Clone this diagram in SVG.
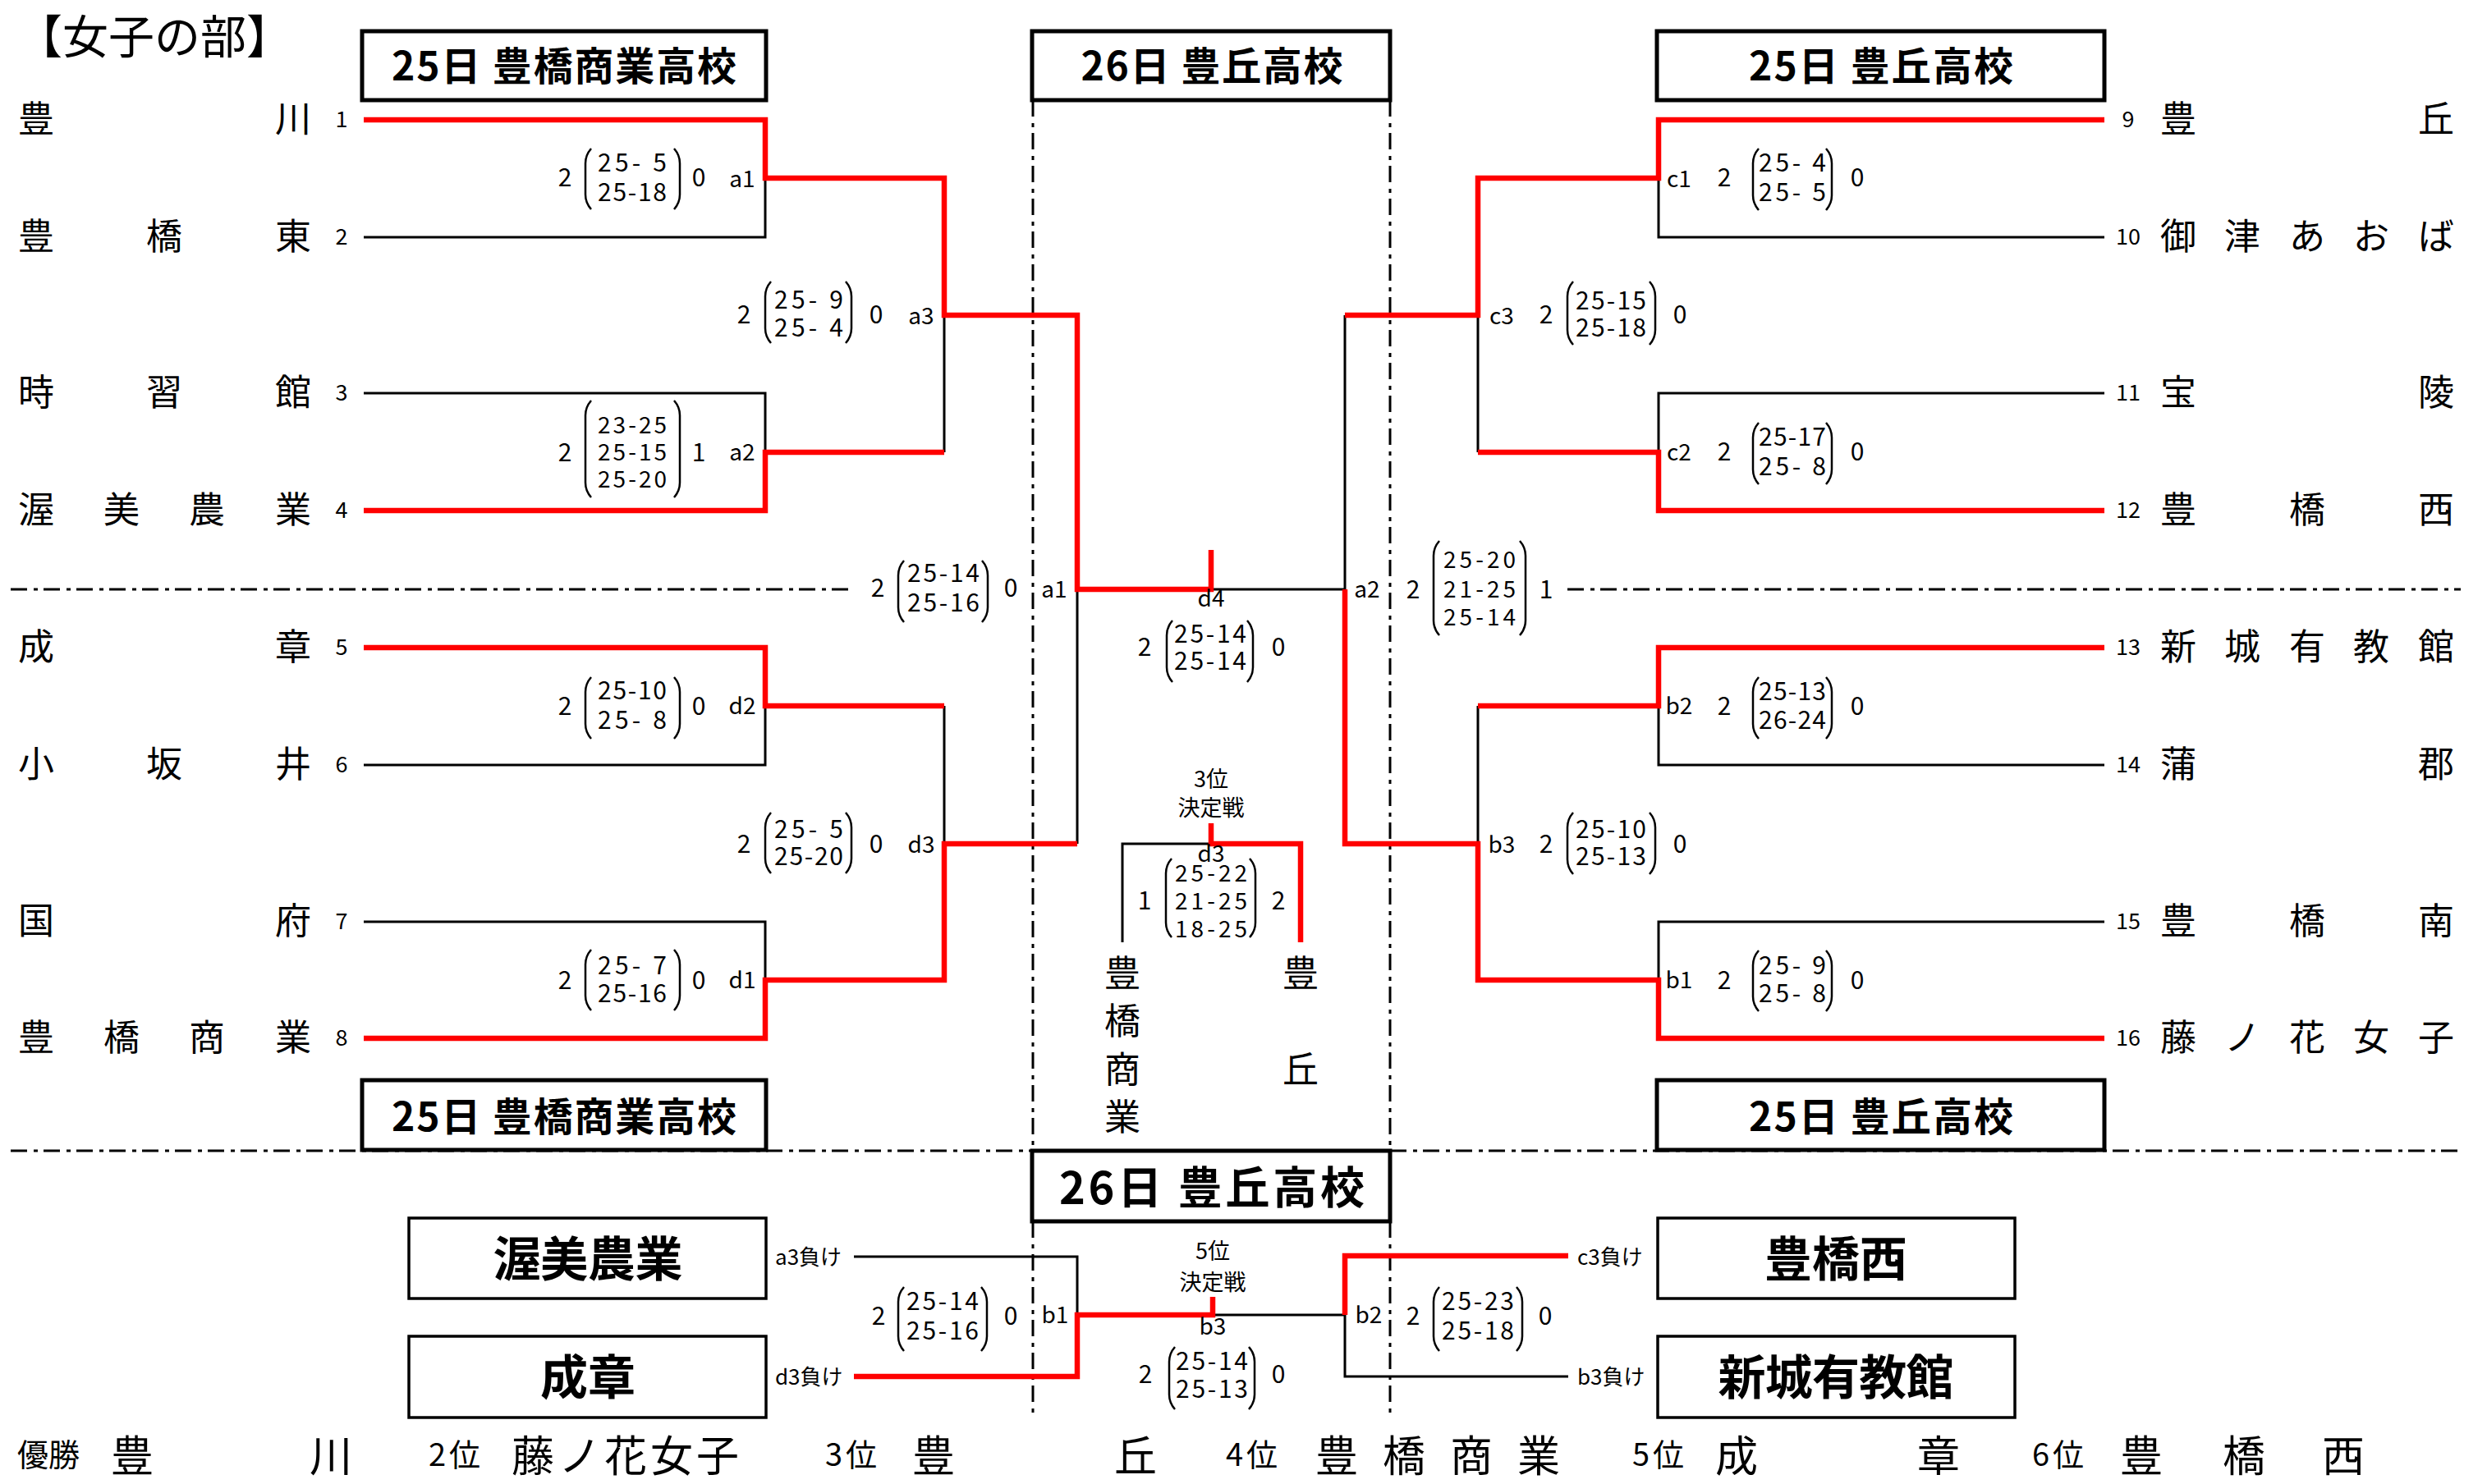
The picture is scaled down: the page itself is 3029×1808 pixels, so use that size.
<svg xmlns="http://www.w3.org/2000/svg" width="3029" height="1808" viewBox="0 0 3029 1808">
<style>
text{font-family:"Noto Sans CJK JP","Noto Sans",sans-serif;dominant-baseline:central;fill:#000}
.nm{font-size:44px}
.num{font-size:27px;text-anchor:middle}
.sc{font-size:30px;text-anchor:middle}
.sc3{font-size:28px;text-anchor:middle}
.lb{font-size:28px;text-anchor:middle}
.sm{font-size:27px;text-anchor:middle}
.lose{font-size:26px}
.ttl{font-size:48px;font-weight:bold;text-anchor:middle}
.big{font-size:58px;font-weight:bold;text-anchor:middle}
.res{font-size:52px}
.rl{font-size:38px}
.box{fill:#fff;stroke:#000;stroke-width:5}
.sbox{fill:#fff;stroke:#000;stroke-width:3.5}
.ln{fill:none;stroke:#000;stroke-width:3}
.win{fill:none;stroke:#ff0000;stroke-width:6.5}
.dash{fill:none;stroke:#000;stroke-width:3;stroke-dasharray:20 8 5 7}
.par{fill:none;stroke:#000;stroke-width:2.5}
</style>
<rect width="3029" height="1808" fill="#fff"/>
<g id="guides">
<path class="dash" d="M13,718 H1040 M1909,718 H2997 M13,1402 H2997 M1258,122 V1402 M1693,122 V1402 M1258,1488 V1728 M1693,1488 V1728"/>
</g>
<text id="heading" x="20" y="40" style="font-size:56px">【女子の部】</text>
<g id="venue-top-left"><rect class="box" x="441" y="38" width="492" height="84"/><text class="ttl" x="687" y="77" textLength="420">25日 豊橋商業高校</text></g>
<g id="venue-top-center"><rect class="box" x="1257" y="38" width="436" height="84"/><text class="ttl" x="1476" y="77" textLength="319">26日 豊丘高校</text></g>
<g id="venue-top-right"><rect class="box" x="2018" y="38" width="545" height="84"/><text class="ttl" x="2291" y="77" textLength="322">25日 豊丘高校</text></g>
<g id="connectors">
<path class="ln" d="M443,289 H932 V217 M443,479 H932 V551 M443,932 H932 V860 M443,1123 H932 V1194 M1150,384 V551 M1150,860 V1028 M1312,718 V1028 M1475,718 H1638 M1638,384 V718"/>
<path class="ln" d="M2563,289 H2020 V217 M2563,479 H2020 V551 M2563,932 H2020 V860 M2563,1123 H2020 V1194 M1800,384 V551 M1800,860 V1028"/>
<path class="ln" d="M1367,1148 V1028 H1475 M1040,1531 H1312 V1602 M1477,1602 H1638 V1677 H1910"/>
<path class="win" d="M443,146 H932 V217 H1150 V384 H1312 V718 H1475 V670"/>
<path class="win" d="M443,622 H932 V551 H1150"/>
<path class="win" d="M443,789 H932 V860 H1150"/>
<path class="win" d="M443,1265 H932 V1194 H1150 V1028 H1312"/>
<path class="win" d="M2563,146 H2020 V217 H1800 V384 H1638"/>
<path class="win" d="M2563,622 H2020 V551 H1800"/>
<path class="win" d="M2563,789 H2020 V860 H1800"/>
<path class="win" d="M2563,1265 H2020 V1194 H1800 V1028 H1638 V718"/>
<path class="win" d="M1475,1003 V1028 H1584 V1148"/>
<path class="win" d="M1040,1677 H1312 V1602 H1477 V1580"/>
<path class="win" d="M1910,1530 H1638 V1602"/>
</g>
<g id="team-1"><text class="num" x="416" y="143">1</text><text class="nm" x="22 335" y="142">豊川</text></g>
<g id="team-2"><text class="num" x="416" y="286">2</text><text class="nm" x="22 178 335" y="285">豊橋東</text></g>
<g id="team-3"><text class="num" x="416" y="476">3</text><text class="nm" x="22 178 335" y="475">時習館</text></g>
<g id="team-4"><text class="num" x="416" y="619">4</text><text class="nm" x="22 126 230 335" y="618">渥美農業</text></g>
<g id="team-5"><text class="num" x="416" y="786">5</text><text class="nm" x="22 335" y="785">成章</text></g>
<g id="team-6"><text class="num" x="416" y="929">6</text><text class="nm" x="22 178 335" y="928">小坂井</text></g>
<g id="team-7"><text class="num" x="416" y="1120">7</text><text class="nm" x="22 335" y="1119">国府</text></g>
<g id="team-8"><text class="num" x="416" y="1262">8</text><text class="nm" x="22 126 230 335" y="1261">豊橋商業</text></g>
<g id="team-9"><text class="num" x="2592" y="143">9</text><text class="nm" x="2631 2945" y="142">豊丘</text></g>
<g id="team-10"><text class="num" x="2592" y="286">10</text><text class="nm" x="2631 2709 2788 2866 2945" y="285">御津あおば</text></g>
<g id="team-11"><text class="num" x="2592" y="476">11</text><text class="nm" x="2631 2945" y="475">宝陵</text></g>
<g id="team-12"><text class="num" x="2592" y="619">12</text><text class="nm" x="2631 2788 2945" y="618">豊橋西</text></g>
<g id="team-13"><text class="num" x="2592" y="786">13</text><text class="nm" x="2631 2709 2788 2866 2945" y="785">新城有教館</text></g>
<g id="team-14"><text class="num" x="2592" y="929">14</text><text class="nm" x="2631 2945" y="928">蒲郡</text></g>
<g id="team-15"><text class="num" x="2592" y="1120">15</text><text class="nm" x="2631 2788 2945" y="1119">豊橋南</text></g>
<g id="team-16"><text class="num" x="2592" y="1262">16</text><text class="nm" x="2631 2709 2788 2866 2945" y="1261">藤ノ花女子</text></g>
<g id="match-a1">
<text class="sc" x="688" y="214">2</text>
<path class="par" d="M720,181 Q713,189 713,199 V237 Q713,247 720,255 M821,181 Q828,189 828,199 V237 Q828,247 821,255"/>
<text class="sc" x="770" y="196" textLength="84">25- 5</text><text class="sc" x="770" y="232" textLength="84">25-18</text>
<text class="sc" x="851" y="214">0</text><text class="lb" x="904" y="216">a1</text>
</g>
<g id="match-a2">
<text class="sc" x="688" y="549">2</text>
<path class="par" d="M720,488 Q713,496 713,506 V588 Q713,598 720,606 M821,488 Q828,496 828,506 V588 Q828,598 821,606"/>
<text class="sc3" x="770" y="516" textLength="84">23-25</text><text class="sc3" x="770" y="549" textLength="84">25-15</text><text class="sc3" x="770" y="582" textLength="84">25-20</text>
<text class="sc" x="851" y="549">1</text><text class="lb" x="904" y="549">a2</text>
</g>
<g id="match-d2">
<text class="sc" x="688" y="858">2</text>
<path class="par" d="M720,825 Q713,833 713,843 V882 Q713,892 720,900 M821,825 Q828,833 828,843 V882 Q828,892 821,900"/>
<text class="sc" x="770" y="839" textLength="84">25-10</text><text class="sc" x="770" y="875" textLength="84">25- 8</text>
<text class="sc" x="851" y="858">0</text><text class="lb" x="904" y="858">d2</text>
</g>
<g id="match-d1">
<text class="sc" x="688" y="1192">2</text>
<path class="par" d="M720,1157 Q713,1165 713,1175 V1213 Q713,1223 720,1231 M821,1157 Q828,1165 828,1175 V1213 Q828,1223 821,1231"/>
<text class="sc" x="770" y="1174" textLength="84">25- 7</text><text class="sc" x="770" y="1208" textLength="84">25-16</text>
<text class="sc" x="851" y="1192">0</text><text class="lb" x="904" y="1192">d1</text>
</g>
<g id="match-a3">
<text class="sc" x="906" y="381">2</text>
<path class="par" d="M939,343 Q932,351 932,361 V400 Q932,410 939,418 M1030,343 Q1037,351 1037,361 V400 Q1037,410 1030,418"/>
<text class="sc" x="985" y="363" textLength="84">25- 9</text><text class="sc" x="985" y="397" textLength="84">25- 4</text>
<text class="sc" x="1067" y="381">0</text><text class="lb" x="1122" y="383">a3</text>
</g>
<g id="match-d3">
<text class="sc" x="906" y="1026">2</text>
<path class="par" d="M939,990 Q932,998 932,1008 V1046 Q932,1056 939,1064 M1030,990 Q1037,998 1037,1008 V1046 Q1037,1056 1030,1064"/>
<text class="sc" x="985" y="1008" textLength="84">25- 5</text><text class="sc" x="985" y="1041" textLength="84">25-20</text>
<text class="sc" x="1067" y="1026">0</text><text class="lb" x="1122" y="1027">d3</text>
</g>
<g id="match-semi-a1">
<text class="sc" x="1069" y="714">2</text>
<path class="par" d="M1101,683 Q1094,691 1094,701 V740 Q1094,750 1101,758 M1196,683 Q1203,691 1203,701 V740 Q1203,750 1196,758"/>
<text class="sc" x="1149" y="696" textLength="88">25-14</text><text class="sc" x="1149" y="732" textLength="88">25-16</text>
<text class="sc" x="1231" y="714">0</text><text class="lb" x="1284" y="716">a1</text>
</g>
<g id="match-final-d4">
<text class="lb" x="1475" y="727">d4</text>
<text class="sc" x="1394" y="786">2</text>
<path class="par" d="M1428,756 Q1421,764 1421,774 V813 Q1421,823 1428,831 M1519,756 Q1526,764 1526,774 V813 Q1526,823 1519,831"/>
<text class="sc" x="1474" y="770" textLength="88">25-14</text><text class="sc" x="1474" y="803" textLength="88">25-14</text>
<text class="sc" x="1557" y="786">0</text>
</g>
<g id="match-semi-a2">
<text class="lb" x="1665" y="716">a2</text>
<text class="sc" x="1721" y="716">2</text>
<path class="par" d="M1753,659 Q1746,667 1746,677 V756 Q1746,766 1753,774 M1851,659 Q1858,667 1858,677 V756 Q1858,766 1851,774"/>
<text class="sc3" x="1802" y="680" textLength="88">25-20</text><text class="sc3" x="1802" y="716" textLength="88">21-25</text><text class="sc3" x="1802" y="750" textLength="88">25-14</text>
<text class="sc" x="1883" y="716">1</text>
</g>
<g id="match-c3">
<text class="lb" x="1829" y="383">c3</text><text class="sc" x="1883" y="381">2</text>
<path class="par" d="M1916,343 Q1909,351 1909,361 V402 Q1909,412 1916,420 M2009,343 Q2016,351 2016,361 V402 Q2016,412 2009,420"/>
<text class="sc" x="1962" y="364" textLength="86">25-15</text><text class="sc" x="1962" y="397" textLength="86">25-18</text>
<text class="sc" x="2046" y="381">0</text>
</g>
<g id="match-b3">
<text class="lb" x="1829" y="1027">b3</text><text class="sc" x="1883" y="1026">2</text>
<path class="par" d="M1916,990 Q1909,998 1909,1008 V1047 Q1909,1057 1916,1065 M2009,990 Q2016,998 2016,1008 V1047 Q2016,1057 2009,1065"/>
<text class="sc" x="1962" y="1008" textLength="86">25-10</text><text class="sc" x="1962" y="1041" textLength="86">25-13</text>
<text class="sc" x="2046" y="1026">0</text>
</g>
<g id="match-c1">
<text class="lb" x="2045" y="216">c1</text><text class="sc" x="2100" y="214">2</text>
<path class="par" d="M2142,181 Q2135,189 2135,199 V238 Q2135,248 2142,256 M2224,181 Q2231,189 2231,199 V238 Q2231,248 2224,256"/>
<text class="sc" x="2183" y="196" textLength="82">25- 4</text><text class="sc" x="2183" y="232" textLength="82">25- 5</text>
<text class="sc" x="2262" y="214">0</text>
</g>
<g id="match-c2">
<text class="lb" x="2045" y="549">c2</text><text class="sc" x="2100" y="548">2</text>
<path class="par" d="M2142,515 Q2135,523 2135,533 V572 Q2135,582 2142,590 M2224,515 Q2231,523 2231,533 V572 Q2231,582 2224,590"/>
<text class="sc" x="2183" y="530" textLength="82">25-17</text><text class="sc" x="2183" y="566" textLength="82">25- 8</text>
<text class="sc" x="2262" y="548">0</text>
</g>
<g id="match-b2">
<text class="lb" x="2045" y="858">b2</text><text class="sc" x="2100" y="858">2</text>
<path class="par" d="M2142,825 Q2135,833 2135,843 V882 Q2135,892 2142,900 M2224,825 Q2231,833 2231,843 V882 Q2231,892 2224,900"/>
<text class="sc" x="2183" y="840" textLength="82">25-13</text><text class="sc" x="2183" y="875" textLength="82">26-24</text>
<text class="sc" x="2262" y="858">0</text>
</g>
<g id="match-b1">
<text class="lb" x="2045" y="1192">b1</text><text class="sc" x="2100" y="1192">2</text>
<path class="par" d="M2142,1158 Q2135,1166 2135,1176 V1214 Q2135,1224 2142,1232 M2224,1158 Q2231,1166 2231,1176 V1214 Q2231,1224 2224,1232"/>
<text class="sc" x="2183" y="1174" textLength="82">25- 9</text><text class="sc" x="2183" y="1208" textLength="82">25- 8</text>
<text class="sc" x="2262" y="1192">0</text>
</g>
<g id="match-3rd">
<text class="sm" x="1475" y="947">3位</text><text class="sm" x="1475" y="982">決定戦</text>
<text class="lb" x="1475" y="1038">d3</text>
<text class="sc" x="1394" y="1095">1</text>
<path class="par" d="M1427,1046 Q1420,1054 1420,1064 V1124 Q1420,1134 1427,1142 M1522,1046 Q1529,1054 1529,1064 V1124 Q1529,1134 1522,1142"/>
<text class="sc3" x="1475" y="1062" textLength="88">25-22</text><text class="sc3" x="1475" y="1096" textLength="88">21-25</text><text class="sc3" x="1475" y="1130" textLength="88">18-25</text>
<text class="sc" x="1557" y="1095">2</text>
</g>
<g id="third-left"><text class="nm" style="text-anchor:middle" x="1367 1367 1367 1367" y="1183 1241 1300 1358">豊橋商業</text></g>
<g id="third-right"><text class="nm" style="text-anchor:middle" x="1584 1584" y="1183 1300">豊丘</text></g>
<g id="venue-bottom-left"><rect class="box" x="441" y="1316" width="492" height="85"/><text class="ttl" x="687" y="1357" textLength="420">25日 豊橋商業高校</text></g>
<g id="venue-bottom-right"><rect class="box" x="2018" y="1316" width="545" height="85"/><text class="ttl" x="2291" y="1357" textLength="322">25日 豊丘高校</text></g>
<g id="venue-bottom-center"><rect class="box" x="1257" y="1402" width="436" height="86"/><text class="ttl" style="font-size:54px" x="1476" y="1443" textLength="372">26日 豊丘高校</text></g>
<g id="box-atsumi"><rect class="sbox" x="498" y="1484" width="435" height="98"/><text class="big" x="716" y="1530" textLength="231">渥美農業</text></g>
<g id="box-seisho"><rect class="sbox" x="498" y="1628" width="435" height="99"/><text class="big" x="716" y="1674">成章</text></g>
<g id="box-toyohashinishi"><rect class="sbox" x="2019" y="1484" width="435" height="98"/><text class="big" x="2236" y="1530">豊橋西</text></g>
<g id="box-shinshiro"><rect class="sbox" x="2019" y="1628" width="435" height="99"/><text class="big" x="2236" y="1674" textLength="287">新城有教館</text></g>
<g id="lose-labels">
<text class="lose" x="944" y="1529">a3負け</text>
<text class="lose" x="944" y="1675">d3負け</text>
<text class="lose" x="1921" y="1529">c3負け</text>
<text class="lose" x="1921" y="1675">b3負け</text>
</g>
<g id="match-5-b1">
<text class="sc" x="1070" y="1601">2</text>
<path class="par" d="M1101,1568 Q1094,1576 1094,1586 V1628 Q1094,1638 1101,1646 M1195,1568 Q1202,1576 1202,1586 V1628 Q1202,1638 1195,1646"/>
<text class="sc" x="1148" y="1583" textLength="88">25-14</text><text class="sc" x="1148" y="1619" textLength="88">25-16</text>
<text class="sc" x="1231" y="1601">0</text><text class="lb" x="1285" y="1600">b1</text>
</g>
<g id="match-5-b3">
<text class="sm" x="1477" y="1522">5位</text><text class="sm" x="1477" y="1560">決定戦</text>
<text class="lb" x="1477" y="1614">b3</text>
<text class="sc" x="1395" y="1672">2</text>
<path class="par" d="M1431,1641 Q1424,1649 1424,1659 V1699 Q1424,1709 1431,1717 M1521,1641 Q1528,1649 1528,1659 V1699 Q1528,1709 1521,1717"/>
<text class="sc" x="1476" y="1656" textLength="88">25-14</text><text class="sc" x="1476" y="1690" textLength="88">25-13</text>
<text class="sc" x="1557" y="1672">0</text>
</g>
<g id="match-5-b2">
<text class="lb" x="1667" y="1600">b2</text><text class="sc" x="1721" y="1601">2</text>
<path class="par" d="M1753,1568 Q1746,1576 1746,1586 V1628 Q1746,1638 1753,1646 M1847,1568 Q1854,1576 1854,1586 V1628 Q1854,1638 1847,1646"/>
<text class="sc" x="1800" y="1583" textLength="88">25-23</text><text class="sc" x="1800" y="1619" textLength="88">25-18</text>
<text class="sc" x="1882" y="1601">0</text>
</g>
<g id="results">
<text class="rl" x="21" y="1769" textLength="76">優勝</text><text class="res" x="135 377" y="1770">豊川</text>
<text class="rl" x="522" y="1769" textLength="63">2位</text><text class="res" x="623 680 736 792 848" y="1770">藤ノ花女子</text>
<text class="rl" x="1005" y="1769" textLength="63">3位</text><text class="res" x="1111 1357" y="1770">豊丘</text>
<text class="rl" x="1493" y="1769" textLength="63">4位</text><text class="res" x="1602 1684 1766 1848" y="1770">豊橋商業</text>
<text class="rl" x="1988" y="1769" textLength="63">5位</text><text class="res" x="2089 2335" y="1770">成章</text>
<text class="rl" x="2475" y="1769" textLength="63">6位</text><text class="res" x="2582 2707 2828" y="1770">豊橋西</text>
</g>
</svg>
